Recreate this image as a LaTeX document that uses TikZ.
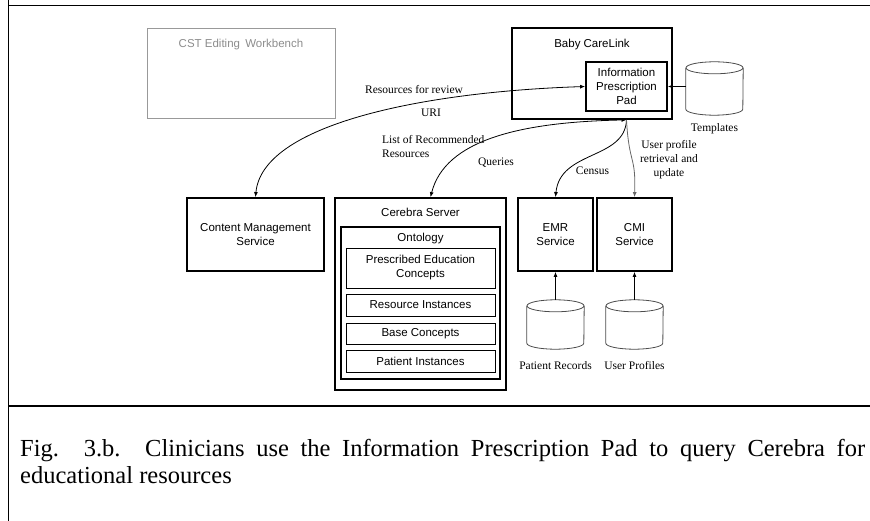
\documentclass[tikz,border=0pt]{standalone}
\usepackage{fontspec}
\setmainfont{Liberation Serif}
\setsansfont{Liberation Sans}
\usetikzlibrary{arrows.meta,calc,fit}
\newcommand\dbcyl[1]{%
  \draw[cylline] ($(#1.north)+(0,6)$) ellipse [x radius=28.5, y radius=6];
  \draw[cylline] ($(#1.north west)+(0,6)$) -- ($(#1.south west)+(0,-6)$)
     arc[start angle=180, end angle=0, x radius=28.5, y radius=6] -- ($(#1.north east)+(0,6)$);
}
\begin{document}
\begin{tikzpicture}[x=1bp,y=-1bp,
  sans/.style={font=\sffamily\fontsize{11.5bp}{14bp}\selectfont, align=center, inner sep=0},
  serif/.style={font=\rmfamily\fontsize{11.5bp}{14bp}\selectfont, align=center, inner sep=0},
  thickbox/.style={sans, draw, line width=1.8bp},
  thinbox/.style={sans, draw, line width=0.8bp},
  cylbox/.style={inner sep=0},
  cylline/.style={draw=black!70, line width=0.8bp},
  frameline/.style={line width=1.8bp},
  conn/.style={line width=0.8bp, >={Latex[length=5bp,width=4bp]}},
]
\useasboundingbox (0,0) rectangle (870,521);
% frame
\draw[frameline] (8,5.5) -- (870,5.5);
\draw[frameline] (8.5,0) -- (8.5,521);
\draw[frameline] (8,406) -- (870,406);

% CST
\node[thinbox, draw=black!40, fit={(147,28) (335,118)}] (cst) {};
\node[sans, text=black!45, anchor=base] (csttxt) at ($(cst.north)+(0,20)$) {CST Editing\hspace{2bp} Workbench};

% Baby CareLink
\node[thickbox, fit={(512,28) (672,119)}] (bcl) {};
\node[sans, anchor=base] (bcltxt) at ($(bcl.north)+(0,20)$) {Baby CareLink};
\node[thickbox, minimum width=81bp, minimum height=49bp] (ipp) at (626.5,86.5) {Information\\Prescription\\Pad};

% Templates
\node[cylbox, fit={(686,62) (743,115)}] (tpl) {};
\dbcyl{tpl}
\node[serif] (ltpl) at (714.5,129) {Templates};

% Content management
\node[thickbox, minimum width=137bp, minimum height=73bp] (cms) at (255.5,234.5) {Content Management\\Service};

% Cerebra
\node[thickbox, fit={(335,198) (506,390)}] (cer) {};
\node[sans, anchor=base] (certxt) at ($(cer.north)+(0,19)$) {Cerebra Server};
\node[thickbox, fit={(341,227) (500,379)}] (ont) {};
\node[sans, anchor=base] (onttxt) at ($(ont.north)+(0,15)$) {Ontology};
\node[thinbox, minimum width=149bp, minimum height=40bp] (pec) at (420.5,268) {Prescribed Education\\Concepts};
\node[thinbox, minimum width=149bp, minimum height=22bp] (ri) at (420.5,305) {Resource Instances};
\node[thinbox, minimum width=149bp, minimum height=21bp] (bc) at (420.5,333.5) {Base Concepts};
\node[thinbox, minimum width=149bp, minimum height=22bp] (pi) at (420.5,361) {Patient Instances};

% EMR / CMI
\node[thickbox, minimum width=75bp, minimum height=73bp] (emr) at (555.5,234.5) {EMR\\Service};
\node[thickbox, minimum width=75bp, minimum height=73bp] (cmi) at (634.5,234.5) {CMI\\Service};
\node[cylbox, fit={(527,300) (584,349)}] (pr) {};
\dbcyl{pr}
\node[cylbox, fit={(606,300) (663,349)}] (up) {};
\dbcyl{up}
\node[serif] (lpr) at (555.5,366) {Patient Records};
\node[serif] (lupf) at (634.5,366) {User Profiles};

% connectors
\draw[conn,->] (tpl.west |- ipp.east) -- (ipp.east);
\draw[conn,->] (pr.north) -- (emr.south);
\draw[conn,->] (up.north) -- (cmi.south);
\draw[conn,<->] (ipp.west) .. controls (420,92) and (262,125) .. (cms.north);
\draw[conn,<->] (ipp.south |- bcl.south) .. controls (520,122) and (445,140) .. ($(cer.north)+(10,0)$);
\draw[conn,->] (ipp.south |- bcl.south) .. controls (625,160) and (560,150) .. (emr.north);
\draw[conn,->,black!60] (ipp.south |- bcl.south) .. controls (629,165) and (636,155) .. (cmi.north);

% connector labels
\node[serif, anchor=base west] (lrev) at (365,94) {Resources for review};
\node[serif] (luri) at (431,113) {URI};
\node[serif, align=left, anchor=west] (llist) at (382,147) {List of Recommended\\Resources};
\node[serif] (lq) at (496,163) {Queries};
\node[serif] (lcen) at (592.5,171) {Census};
\node[serif] (lup) at (669,159.5) {User profile\\retrieval and\\update};

% caption
\node[anchor=north west, inner sep=0, text width=845bp, align=justify,
      font=\rmfamily\fontsize{24.5bp}{27bp}\selectfont]
  (cap) at (20,439) {\tolerance=9999\relax\hyphenpenalty=10000\relax Fig. 3.b. Clinicians use the Information Prescription Pad to query Cerebra for\linebreak educational resources};
\end{tikzpicture}
\end{document}
